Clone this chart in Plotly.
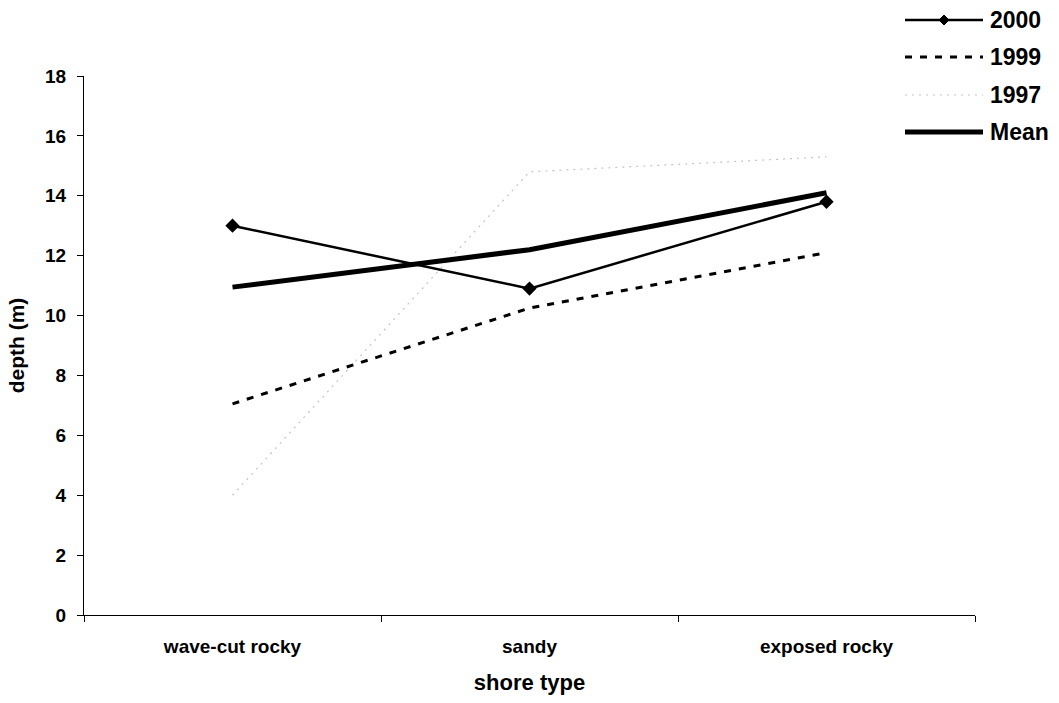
import plotly.graph_objects as go

# Shore types along the x axis
shore_types = ["wave-cut rocky", "sandy", "exposed rocky"]

# Depth (m) per shore type for each survey year and the mean
depth_2000 = [13.0, 10.9, 13.8]
depth_1999 = [7.05, 10.25, 12.1]
depth_1997 = [4.0, 14.8, 15.3]
depth_mean = [10.95, 12.2, 14.1]

y_ticks = [0, 2, 4, 6, 8, 10, 12, 14, 16, 18]

FONT = "Liberation Sans, Arial, sans-serif"
BOLD = 700

W, H = 1059, 703
L, R, T, B = 84, 84, 76, 88
PW, PH = W - L - R, H - T - B

series = [
    ("2000", depth_2000, dict(color="black", width=2.5), dict(symbol="diamond", size=11, color="black")),
    ("1999", depth_1999, dict(color="black", width=3, dash="7px,8px"), None),
    ("1997", depth_1997, dict(color="#c4c4c4", width=1.2, dash="2px,5px"), None),
    ("Mean", depth_mean, dict(color="black", width=5), None),
]

fig = go.Figure()
draw_order = ["1997", "1999", "Mean", "2000"]
for name in draw_order:
    nm, vals, line, marker = next(s for s in series if s[0] == name)
    fig.add_trace(go.Scatter(
        x=shore_types, y=vals, name=nm,
        mode="lines+markers" if marker else "lines",
        line=line, marker=marker, showlegend=False, cliponaxis=False,
    ))

# Hand-drawn legend at the top right (long line samples)
def px_x(px):
    return (px - L) / PW

def px_y(py):
    return (H - B - py) / PH

legend_rows = [20, 57, 95, 132]
x0, x1, xt = 905, 983, 988
shapes = []
annotations = []
for (nm, vals, line, marker), ry in zip(series, legend_rows):
    shapes.append(dict(type="line", xref="paper", yref="paper",
                       x0=px_x(x0), x1=px_x(x1), y0=px_y(ry), y1=px_y(ry),
                       line=dict(color=line["color"], width=line["width"],
                                 dash=line.get("dash", "solid"))))
    if marker:
        shapes.append(dict(type="path", xref="paper", yref="paper",
                           xsizemode="pixel", ysizemode="pixel",
                           xanchor=px_x((x0 + x1) / 2), yanchor=px_y(ry),
                           path="M -5 0 L 0 5 L 5 0 L 0 -5 Z",
                           fillcolor="black", line=dict(color="black", width=1)))
    annotations.append(dict(text=nm, xref="paper", yref="paper",
                            x=px_x(xt), y=px_y(ry), xanchor="left", yanchor="middle",
                            showarrow=False,
                            font=dict(family=FONT, size=23, color="black", weight=BOLD)))

fig.update_layout(
    width=W, height=H,
    margin=dict(l=L, r=R, t=T, b=B, autoexpand=False),
    paper_bgcolor="white", plot_bgcolor="white",
    font=dict(family=FONT, color="black", size=19, weight=BOLD),
    shapes=shapes, annotations=annotations,
    xaxis=dict(
        type="category", range=[-0.5, 2.5], tickson="boundaries",
        ticks="outside", ticklen=6, tickcolor="black", tickwidth=1,
        showline=True, linecolor="black", linewidth=1, showgrid=False,
        ticklabelstandoff=14,
        tickfont=dict(family=FONT, size=19, color="black", weight=BOLD),
        title=dict(text="shore type", font=dict(family=FONT, size=22, color="black", weight=BOLD),
                   standoff=18),
        zeroline=False,
    ),
    yaxis=dict(
        range=[0, 18], tickvals=y_ticks,
        ticks="outside", ticklen=6, tickcolor="black", tickwidth=1,
        showline=True, linecolor="black", linewidth=1, showgrid=False,
        zeroline=False, ticklabelstandoff=7,
        tickfont=dict(family=FONT, size=19, color="black", weight=BOLD),
        title=dict(text="depth (m)", font=dict(family=FONT, size=21, color="black", weight=BOLD),
                   standoff=14),
    ),
)

fig.write_html("out.html")
